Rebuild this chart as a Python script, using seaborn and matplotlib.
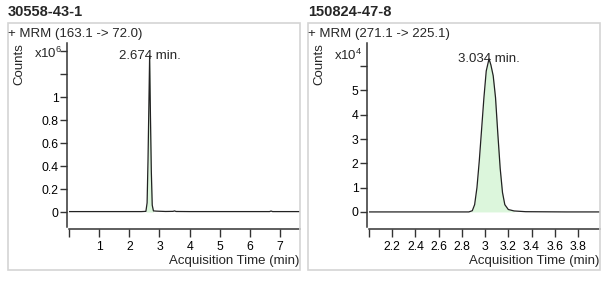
import numpy as np
import pandas as pd
import matplotlib
matplotlib.use("Agg")
import matplotlib.pyplot as plt
from matplotlib.patches import Rectangle
import seaborn as sns

# ---------------- data ----------------
left_title = "30558-43-1"
left_trace = "+ MRM (163.1 -> 72.0)"
left_time = [0.0, 0.5, 1.0, 1.5, 2.0, 2.4, 2.55, 2.59, 2.62, 2.65, 2.674, 2.70, 2.73,
             2.76, 2.80, 2.9, 3.2, 3.45, 3.5, 3.55, 4.0, 5.0, 6.0, 6.65, 6.7, 6.75, 7.2, 7.66]
left_counts = [0.004, 0.004, 0.004, 0.004, 0.004, 0.004, 0.006, 0.08, 0.45, 0.95, 1.36, 0.85, 0.35,
               0.06, 0.01, 0.008, 0.005, 0.006, 0.01, 0.005, 0.004, 0.004, 0.004, 0.004, 0.009, 0.004, 0.004, 0.004]
left_peak_rt = 2.674
left_peak_range = (2.55, 2.80)
left_xticks = [0, 1, 2, 3, 4, 5, 6, 7]
left_xticklabels = ["", "1", "2", "3", "4", "5", "6", "7"]
left_yticks = [0, 0.2, 0.4, 0.6, 0.8, 1.0, 1.2, 1.4]
left_yticklabels = ["0", "0.2", "0.4", "0.6", "0.8", "1", "", ""]
left_mult = "x10$^{6}$"

right_title = "150824-47-8"
right_trace = "+ MRM (271.1 -> 225.1)"
right_time = [2.0, 2.5, 2.86, 2.89, 2.91, 2.93, 2.95, 2.97, 2.99, 3.01, 3.034, 3.05, 3.07,
              3.09, 3.11, 3.13, 3.15, 3.17, 3.20, 3.25, 3.35, 3.7, 3.99]
right_counts = [0.0, 0.0, 0.0, 0.05, 0.3, 1.0, 2.1, 3.4, 4.7, 5.8, 6.3, 6.05, 5.6,
                4.7, 3.2, 1.8, 0.8, 0.3, 0.1, 0.04, 0.01, 0.0, 0.0]
right_peak_rt = 3.034
right_peak_range = (2.86, 3.25)
right_xticks = [2.0, 2.2, 2.4, 2.6, 2.8, 3.0, 3.2, 3.4, 3.6, 3.8]
right_xticklabels = ["", "2.2", "2.4", "2.6", "2.8", "3", "3.2", "3.4", "3.6", "3.8"]
right_yticks = [0, 1, 2, 3, 4, 5, 6]
right_yticklabels = ["0", "1", "2", "3", "4", "5", ""]
right_mult = "x10$^{4}$"

# ---------------- style ----------------
sns.set_theme(style="ticks")
plt.rcParams["font.family"] = ["Liberation Sans", "DejaVu Sans"]
plt.rcParams["mathtext.fontset"] = "custom"
plt.rcParams["mathtext.rm"] = "Liberation Sans"

W, H = 608, 281
fig = plt.figure(figsize=(W / 100, H / 100), dpi=100)
fig.patch.set_facecolor("white")

FILL = "#dcf6dc"
FS = 9.5
TFS = 8.8


def px_rect(x0, y0, x1, y1):
    return [x0 / W, 1 - y1 / H, (x1 - x0) / W, (y1 - y0) / H]


def panel(ox, title, trace, t, c, rt, prange, xlim, ylim, xticks, xtl, yticks, ytl, mult, mult_y):
    # box
    fig.add_artist(Rectangle(((ox + 8) / W, 1 - 270 / H), 292 / W, (270 - 23) / H,
                             transform=fig.transFigure, fill=False, edgecolor="#d4d4d4", lw=1.2))
    fig.text((ox + 8) / W, 1 - 12 / H, title, fontsize=10.5, fontweight="bold", va="center", ha="left")
    fig.text((ox + 8) / W, 1 - 34 / H, trace, fontsize=FS, va="center", ha="left")
    fig.text((ox + 19) / W, 1 - 64 / H, "Counts", fontsize=FS, rotation=90, va="center", ha="center")
    fig.text((ox + 62) / W, 1 - mult_y / H, mult, fontsize=FS, va="center", ha="right")

    ax = fig.add_axes(px_rect(ox + 69, 43, ox + 300, 227))
    ax.set_facecolor("none")
    df = pd.DataFrame({"time": t, "counts": c})
    mask = (df["time"] >= prange[0]) & (df["time"] <= prange[1])
    ax.fill_between(df["time"][mask], df["counts"][mask], 0, color=FILL, lw=0, zorder=1)
    sns.lineplot(data=df, x="time", y="counts", ax=ax, color="#222222", lw=0.9, zorder=3)
    ax.set_xlim(*xlim)
    ax.set_ylim(*ylim)
    ax.set_xlabel("")
    ax.set_ylabel("")
    sns.despine(ax=ax, offset={"left": 1.5, "bottom": 1.5})
    ax.set_xticks(xticks)
    ax.set_xticklabels(xtl)
    ax.set_yticks(yticks)
    ax.set_yticklabels(ytl)
    ax.tick_params(axis="x", direction="out", length=6, width=1, pad=2.5, colors="#333333",
                   labelcolor="black", labelsize=TFS)
    ax.tick_params(axis="y", direction="out", length=5, width=1, pad=1, colors="#333333",
                   labelcolor="black", labelsize=TFS)
    for s in ("left", "bottom"):
        ax.spines[s].set_linewidth(1.1)
        ax.spines[s].set_color("#333333")
    fig.text((ox + 299) / W, 1 - 261 / H, "Acquisition Time (min)", fontsize=FS, ha="right", va="center")
    peak = max(c)
    ax.annotate(f"{rt:.3f} min.", (rt, peak), xytext=(0, -2.5), textcoords="offset points",
                ha="center", va="baseline", fontsize=FS)
    return ax


panel(0, left_title, left_trace, left_time, left_counts, left_peak_rt, left_peak_range,
      (0.0, 7.66), (-0.13, 1.47), left_xticks, left_xticklabels, left_yticks, left_yticklabels,
      left_mult, 53)
panel(300, right_title, right_trace, right_time, right_counts, right_peak_rt, right_peak_range,
      (2.0, 3.99), (-0.62, 6.95), right_xticks, right_xticklabels, right_yticks, right_yticklabels,
      right_mult, 55)

fig.savefig("out.png", dpi=100, facecolor="white")
